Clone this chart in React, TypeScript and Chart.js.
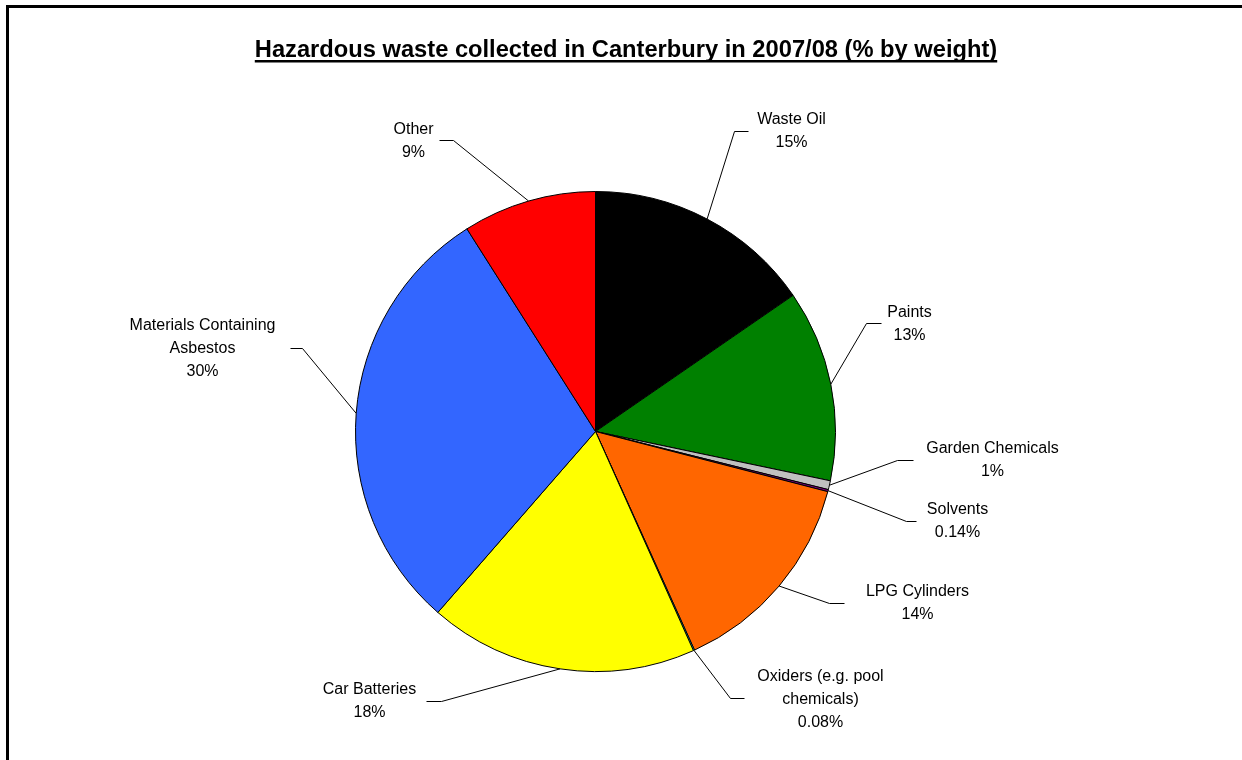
import React, { useEffect, useRef } from "react";
import { Chart, registerables } from "chart.js";

Chart.register(...registerables);

const TITLE = "Hazardous waste collected in Canterbury in 2007/08 (% by weight)";
const CATEGORIES = [
  "Waste Oil",
  "Paints",
  "Garden Chemicals",
  "Solvents",
  "LPG Cylinders",
  "Oxiders (e.g. pool\nchemicals)",
  "Car Batteries",
  "Materials Containing\nAsbestos",
  "Other",
];
const VALUES = [15.4, 12.9, 0.6, 0.14, 14.2, 0.08, 18.1, 29.6, 9.0];
const PCT_LABELS = ["15%", "13%", "1%", "0.14%", "14%", "0.08%", "18%", "30%", "9%"];
const COLORS = ["#000000", "#008000", "#C0C0C0", "#800080", "#FF6600", "#00FFFF", "#FFFF00", "#3366FF", "#FF0000"];

// label layout (offsets relative to pie centre)
const ELBOW = [[139, -300], [271, -108], [302, 29], [311, 90], [234, 172], [135, 267], [-154, 270], [-293, -83], [-142, -291]];
const HLEN = [14, 15, 16, 10, 15, 14, -15, -12, -14];
const TEXT_POS = [[196, -312], [314, -119], [397, 17], [362, 78], [322, 160], [225, 245], [-226, 258], [-393, -106], [-182, -302]];

const FONT = "'Liberation Sans', Arial, sans-serif";

const decorPlugin = {
  id: "decor",
  afterDraw(chart: any) {
    const ctx = chart.ctx;
    ctx.save();
    // frame
    ctx.strokeStyle = "#000";
    ctx.lineWidth = 3;
    ctx.strokeRect(7.5, 6.5, 1400, 1000);
    // title
    ctx.fillStyle = "#000";
    ctx.font = `bold 23.7px ${FONT}`;
    ctx.textAlign = "center";
    ctx.textBaseline = "alphabetic";
    const tx = 626;
    const ty = 57;
    ctx.fillText(TITLE, tx, ty);
    const tw = ctx.measureText(TITLE).width;
    ctx.fillRect(tx - tw / 2, ty + 3, tw, 2.5);

    const meta = chart.getDatasetMeta(0);
    ctx.font = `16px ${FONT}`;
    ctx.textBaseline = "middle";
    ctx.lineWidth = 1;
    meta.data.forEach((arc: any, i: number) => {
      const p = arc.getProps(["x", "y", "startAngle", "endAngle", "outerRadius"], true);
      const mid = (p.startAngle + p.endAngle) / 2;
      const ex = p.x + Math.cos(mid) * p.outerRadius;
      const ey = p.y + Math.sin(mid) * p.outerRadius;
      const bx = p.x + ELBOW[i][0];
      const by = p.y + ELBOW[i][1];
      ctx.strokeStyle = "#000";
      ctx.beginPath();
      ctx.moveTo(ex, ey);
      ctx.lineTo(bx, by);
      ctx.lineTo(bx + HLEN[i], by);
      ctx.stroke();
      const lines = CATEGORIES[i].split("\n").concat([PCT_LABELS[i]]);
      ctx.fillStyle = "#000";
      ctx.textAlign = "center";
      lines.forEach((ln: string, k: number) => {
        ctx.fillText(ln, p.x + TEXT_POS[i][0], p.y + TEXT_POS[i][1] + k * 23);
      });
    });
    ctx.restore();
  },
};

export default function App() {
  const ref = useRef<HTMLCanvasElement | null>(null);
  useEffect(() => {
    if (!ref.current) return;
    const chart = new Chart(ref.current, {
      type: "pie",
      data: {
        labels: CATEGORIES,
        datasets: [
          {
            data: VALUES,
            backgroundColor: COLORS,
            borderColor: "#000",
            borderWidth: 1,
          },
        ],
      },
      options: {
        responsive: false,
        animation: false,
        layout: { padding: { left: 355, right: 406, top: 191, bottom: 88 } },
        plugins: {
          legend: { display: false },
          title: { display: false },
          tooltip: { enabled: false },
        },
      },
      plugins: [decorPlugin],
    });
    return () => chart.destroy();
  }, []);
  return (
    <div style={{ position: "absolute", left: 0, top: 0, width: 1242, height: 760, background: "#fff", overflow: "hidden" }}>
      <canvas ref={ref} width={1242} height={760} style={{ display: "block" }} />
    </div>
  );
}
